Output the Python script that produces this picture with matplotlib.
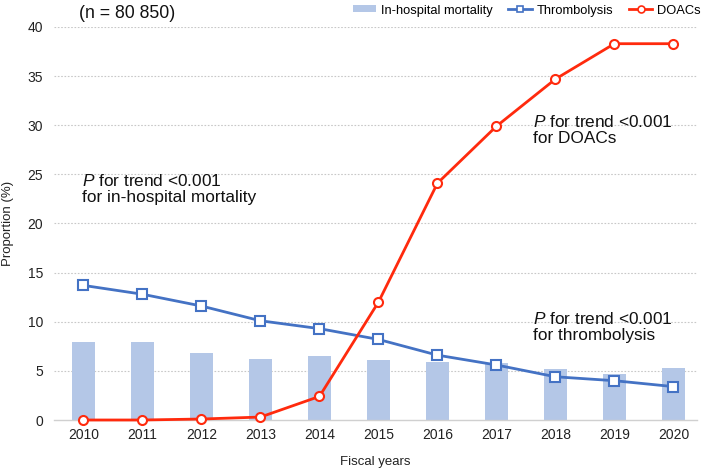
import matplotlib
matplotlib.use("Agg")
import matplotlib.pyplot as plt
import numpy as np

plt.rcParams['font.family'] = ['Liberation Sans', 'DejaVu Sans']
plt.rcParams['mathtext.fontset'] = 'custom'
plt.rcParams['mathtext.it'] = 'Liberation Sans:italic'
plt.rcParams['mathtext.rm'] = 'Liberation Sans'

years = ["2010", "2011", "2012", "2013", "2014", "2015", "2016", "2017", "2018", "2019", "2020"]
mortality = [7.9, 7.9, 6.8, 6.2, 6.5, 6.1, 5.9, 5.8, 5.2, 4.7, 5.3]
thrombolysis = [13.7, 12.8, 11.6, 10.1, 9.3, 8.2, 6.6, 5.6, 4.4, 4.0, 3.4]
doacs = [0.0, 0.0, 0.1, 0.3, 2.4, 12.0, 24.1, 29.9, 34.7, 38.3, 38.3]
yticks = [0, 5, 10, 15, 20, 25, 30, 35, 40]

bar_c = '#B4C7E7'
blue = '#4472C4'
red = '#FF2A0D'

fig = plt.figure(figsize=(7.09, 4.70), dpi=100)
ax = fig.add_axes([54/709, 1-420/470, (697-54)/709, (420-27)/470])
x = np.arange(len(years))

b = ax.bar(x, mortality, width=0.4, color=bar_c, label='In-hospital mortality', zorder=2)
l1, = ax.plot(x, thrombolysis, color=blue, lw=2.0, marker='s', ms=6.5, mfc='white', mec=blue, mew=1.5,
              label='Thrombolysis', zorder=3)
l2, = ax.plot(x, doacs, color=red, lw=2.0, marker='o', ms=6.5, mfc='white', mec=red, mew=1.5,
              label='DOACs', zorder=4, clip_on=False)

ax.set_xlim(-0.5, 10.4)
ax.set_ylim(0, 40)
ax.set_yticks(yticks)
ax.set_xticks(x)
ax.set_xticklabels(years)
ax.tick_params(axis='both', length=0, labelsize=10, colors='#222222')
ax.tick_params(axis='y', pad=8)
ax.tick_params(axis='x', pad=6)
for t in yticks[1:]:
    ax.axhline(t, color='#C8C8C8', lw=0.8, ls=(0, (1.5, 1.5)), zorder=1)
for s in ['top', 'right', 'left']:
    ax.spines[s].set_visible(False)
ax.spines['bottom'].set_color('#D0D0D0')
ax.spines['bottom'].set_linewidth(1.0)

ax.set_xlabel('Fiscal years', fontsize=9.5, labelpad=10, color='#222222')
ax.set_ylabel('Proportion (%)', fontsize=9.5, color='#222222')
ax.yaxis.set_label_coords(-40/643, 0.5)

fs = 12.4
ax.text(-0.02, 23.5, '$\\it{P}$ for trend <0.001\nfor in-hospital mortality', fontsize=fs,
        va='center', ha='left', color='#111111', linespacing=1.1)
ax.text(7.62, 29.5, '$\\it{P}$ for trend <0.001\nfor DOACs', fontsize=fs,
        va='center', ha='left', color='#111111', linespacing=1.1)
ax.text(7.62, 9.5, '$\\it{P}$ for trend <0.001\nfor thrombolysis', fontsize=fs,
        va='center', ha='left', color='#111111', linespacing=1.1)

fig.text(79/709, 1-14/470, '(n = 80 850)', fontsize=12.7, va='center', ha='left', color='#111111')

leg = ax.legend([b, l1, l2], ['In-hospital mortality', 'Thrombolysis', 'DOACs'],
                loc='center right', bbox_to_anchor=(701/709, 1-11/470), bbox_transform=fig.transFigure,
                ncol=3, frameon=False, fontsize=9.3, handlelength=1.8, handletextpad=0.4,
                columnspacing=1.2, borderaxespad=0, borderpad=0)
for h in leg.legend_handles:
    if hasattr(h, 'set_markersize'):
        h.set_markersize(5)
        h.set_markeredgewidth(1.2)
    else:
        h.set_height(5)
        h.set_y(h.get_y() + 1.5)

fig.savefig('out.png', dpi=100)
